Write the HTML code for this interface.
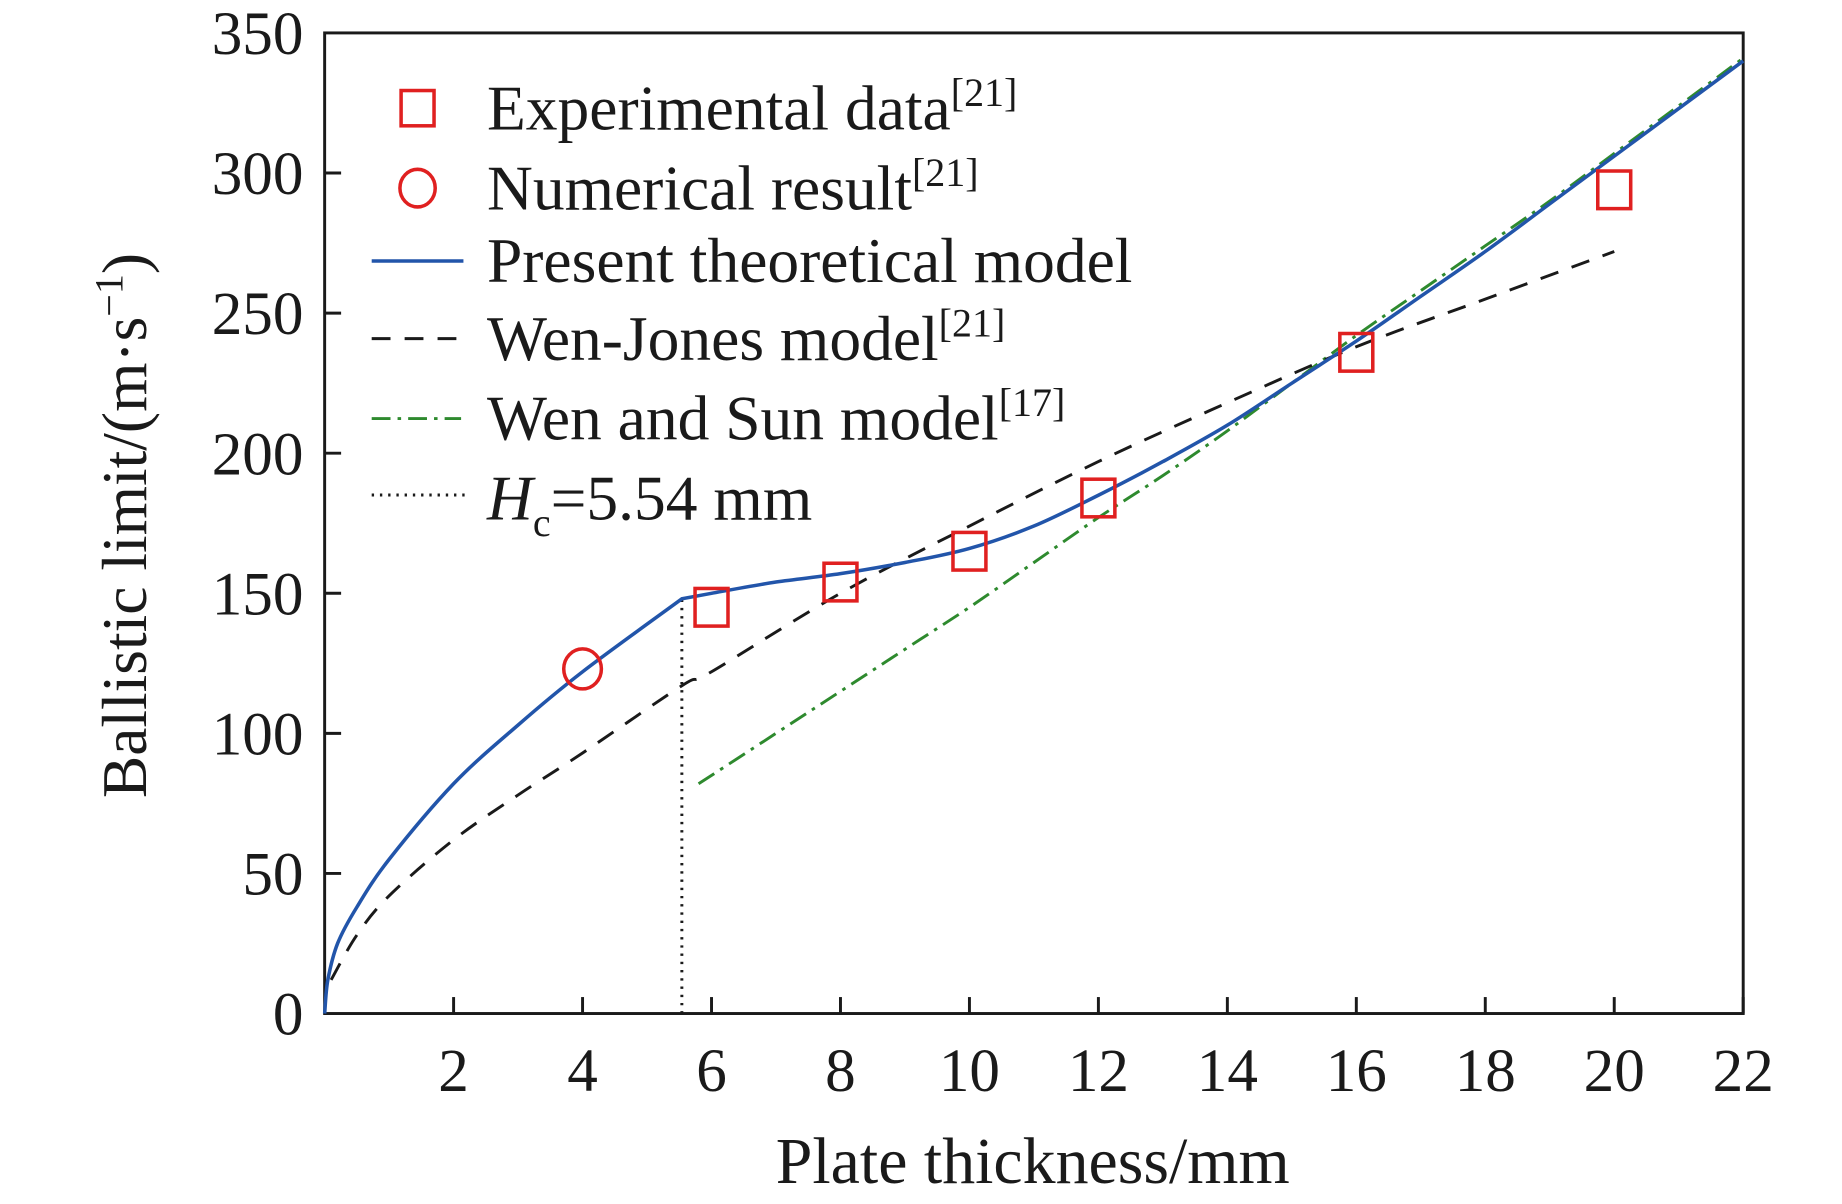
<!DOCTYPE html>
<html><head><meta charset="utf-8"><style>
html,body{margin:0;padding:0;background:#fff;}
svg{display:block;}
text{font-family:"Liberation Serif",serif;fill:#1a1a1a;}
</style></head><body>
<svg id="chart" width="1842" height="1204" viewBox="0 0 1566 1024" preserveAspectRatio="none" xmlns="http://www.w3.org/2000/svg">
<g id="plot"></g>
</svg>
<script>
const xTicks=[2,4,6,8,10,12,14,16,18,20,22];
const yTicks=[0,50,100,150,200,250,300,350];
const presentX=[0,0.05,0.2,0.5,1,2,3,4,5.54,6,7,8,9,10,11,12,13,14,15,16,17,18,19,20,21,22];
const presentY=[0,12,25,38,55,82,103,122,148,150,154,157,161,166,174,185,197,210,225,240,256,272,289,306,323,340];
const wjX=[0.1,0.5,1,2,3,4,5.54,6,8,10,12,14,16,18,20];
const wjY=[12,28,42,62,78,93,117,122,150,174,197,218,238,255,272];
const wsX=[5.8,7,8,9,10,11,12,13,14,15,16,17,18,19,20,21,22];
const wsY=[82,100,115,130,145,161,177,192,208,225,242,258,274,290,307,324,341];
const expX=[6,8,10,12,16,20];
const expY=[145,154,165,184,236,294];
const numX=[4];
const numY=[123];
const hc=5.54;

const L=276,R=1482,T=28,B=862;
const sx=v=>L+(v/22)*(R-L);
const sy=v=>B-(v/350)*(B-T);
const NS="http://www.w3.org/2000/svg";
const g=document.getElementById('plot');
function mk(tag,attrs,parent){const e=document.createElementNS(NS,tag);for(const k in attrs)e.setAttribute(k,attrs[k]);(parent||g).appendChild(e);return e;}
function smooth(xs,ys){
  const p=xs.map((x,i)=>[sx(x),sy(ys[i])]);
  let d='M'+p[0][0].toFixed(1)+','+p[0][1].toFixed(1);
  for(let i=0;i<p.length-1;i++){
    const p0=p[i-1]||p[i],p1=p[i],p2=p[i+1],p3=p[i+2]||p2;
    const c1=[p1[0]+(p2[0]-p0[0])/6,p1[1]+(p2[1]-p0[1])/6];
    const c2=[p2[0]-(p3[0]-p1[0])/6,p2[1]-(p3[1]-p1[1])/6];
    d+=' C'+c1.map(v=>v.toFixed(1)).join(',')+' '+c2.map(v=>v.toFixed(1)).join(',')+' '+p2[0].toFixed(1)+','+p2[1].toFixed(1);
  }
  return d;
}
function smoothSplit(xs,ys,xk){
  const k=xs.indexOf(xk);
  if(k<1)return smooth(xs,ys);
  return smooth(xs.slice(0,k+1),ys.slice(0,k+1))+' '+smooth(xs.slice(k),ys.slice(k)).replace('M','L');
}

let fr=mk('rect',{x:L,y:T,width:R-L,height:B-T,fill:'none',stroke:'#1a1a1a','stroke-width':2.5});



xTicks.forEach(v=>{
  let t=mk('line',{x1:sx(v),x2:sx(v),y1:B,y2:B-14,stroke:'#1a1a1a','stroke-width':2.5});
  
  
  let l=mk('text',{x:sx(v),y:B+66,'font-size':52,'text-anchor':'middle'});l.textContent=v;
  
  
});
yTicks.forEach(v=>{
  if(v>0&&v<350){let t=mk('line',{x1:L,x2:L+14,y1:sy(v),y2:sy(v),stroke:'#1a1a1a','stroke-width':2.5});
  
  }
  let l=mk('text',{x:L-18,y:sy(v)+18,'font-size':52,'text-anchor':'end'});l.textContent=v;
  
  
});
let xt=mk('text',{x:878,y:1006,'font-size':56,'text-anchor':'middle'});xt.textContent='Plate thickness/mm';


let yt=mk('text',{x:0,y:0,'font-size':54,'text-anchor':'middle',transform:'translate(124,447) rotate(-90)'});
yt.innerHTML='Ballistic limit/(m·s<tspan dy="-20" font-size="34">−1</tspan><tspan dy="20">)</tspan>';



let hl=mk('line',{x1:sx(hc),x2:sx(hc),y1:B,y2:sy(148),stroke:'#1a1a1a','stroke-width':2.5,'stroke-dasharray':'2,5'});



let ws=mk('path',{d:smooth(wsX,wsY),fill:'none',stroke:'#2e8a2e','stroke-width':2.5,'stroke-dasharray':'16,6,3,6'});


let wj=mk('path',{d:smooth(wjX,wjY),fill:'none',stroke:'#1a1a1a','stroke-width':2.5,'stroke-dasharray':'16,12'});


let pr=mk('path',{d:smoothSplit(presentX,presentY,hc),fill:'none',stroke:'#2255aa','stroke-width':3});



expX.forEach((x,i)=>{
  let r=mk('rect',{x:sx(x)-14,y:sy(expY[i])-16,width:28,height:32,fill:'none',stroke:'#e02020','stroke-width':3});
  
  
});
numX.forEach((x,i)=>{
  let c=mk('ellipse',{cx:sx(x),cy:sy(numY[i]),rx:16,ry:17,fill:'none',stroke:'#e02020','stroke-width':3});
  
  
});

const lg=mk('g',{});


const rows=[
 {y:92,label:'Experimental data<tspan dy="-20" font-size="34">[21]</tspan>',n:'legend-experimental'},
 {y:160,label:'Numerical result<tspan dy="-20" font-size="34">[21]</tspan>',n:'legend-numerical'},
 {y:222,label:'Present theoretical model',n:'legend-present'},
 {y:288,label:'Wen-Jones model<tspan dy="-20" font-size="34">[21]</tspan>',n:'legend-wen-jones'},
 {y:356,label:'Wen and Sun model<tspan dy="-20" font-size="34">[17]</tspan>',n:'legend-wen-sun'},
 {y:424,label:'<tspan font-style="italic">H</tspan><tspan dy="14" font-size="34">c</tspan><tspan dy="-14">=5.54 mm</tspan>',n:'legend-hc'}
];
rows.forEach(r=>{
  let t=mk('text',{x:414,y:r.y+18,'font-size':54},lg);t.innerHTML=r.label;
  
  
});
mk('rect',{x:341,y:77,width:28,height:30,fill:'none',stroke:'#e02020','stroke-width':3},lg);
mk('ellipse',{cx:355,cy:160,rx:15,ry:16,fill:'none',stroke:'#e02020','stroke-width':3},lg);
mk('line',{x1:316,x2:394,y1:222,y2:222,stroke:'#2255aa','stroke-width':3},lg);
mk('line',{x1:316,x2:396,y1:288,y2:288,stroke:'#1a1a1a','stroke-width':2.5,'stroke-dasharray':'16,12'},lg);
mk('line',{x1:316,x2:392,y1:356,y2:356,stroke:'#2e8a2e','stroke-width':2.5,'stroke-dasharray':'16,6,3,6'},lg);
mk('line',{x1:316,x2:396,y1:421,y2:421,stroke:'#1a1a1a','stroke-width':2.5,'stroke-dasharray':'2,5'},lg);
</script>
</body></html>
